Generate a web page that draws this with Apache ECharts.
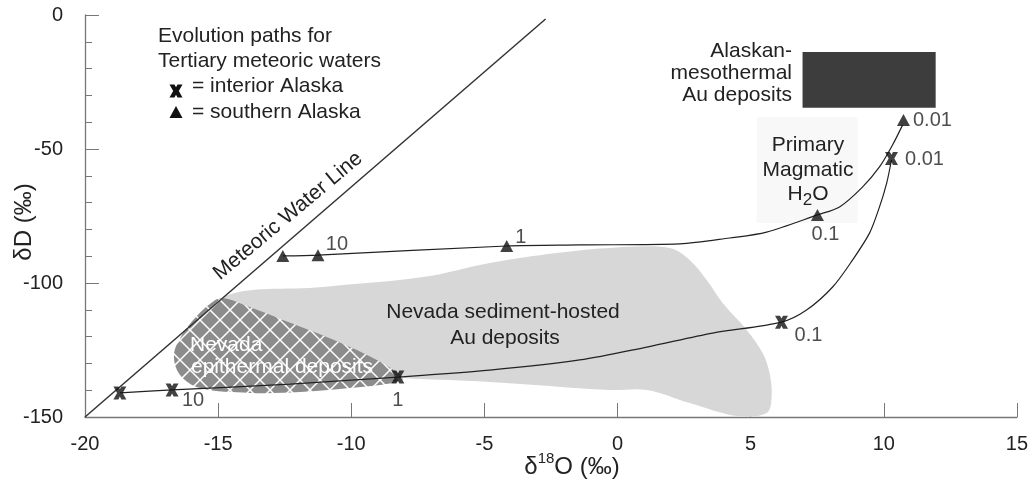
<!DOCTYPE html>
<html><head><meta charset="utf-8">
<script src="https://cdn.jsdelivr.net/npm/echarts@6/dist/echarts.min.js"></script>
<style>html,body{margin:0;padding:0;background:#fff}#c{width:1031px;height:487px}</style>
</head><body><div id="c"></div>
<script>
// ---------------- data ----------------
const xTickValues = [-20, -15, -10, -5, 0, 5, 10, 15];
const yTickValues = [-150, -100, -50, 0];

const meteoricWaterLine = [[-20, -150], [-2.70, -1.5]];

const interiorPath = [[-18.69,-141.0],[-16.73,-139.9],[-12.30,-137.7],[-8.25,-135.1],[-4.80,-132.5],[-1.42,-128.7],[1.10,-123.9],[3.57,-118.7],[6.16,-114.6],[7.10,-110.1],[8.08,-101.5],[8.83,-91.4],[9.47,-81.3],[9.84,-71.6],[10.11,-62.7],[10.29,-54.1]];
const interiorPoints = [[-18.69,-141.0],[-16.73,-139.9],[-8.25,-135.1],[6.16,-114.6],[10.29,-53.5]];
const interiorLabels = ['', '10', '1', '0.1', '0.01'];

const southernPath = [[-12.57,-89.9],[-11.25,-89.6],[-4.16,-86.2],[-1.42,-85.8],[2.34,-85.4],[4.21,-83.2],[5.60,-81.0],[7.51,-74.6],[8.34,-71.6],[9.20,-64.2],[9.84,-56.7],[10.33,-48.5],[10.71,-41.0]];
const southernPoints = [[-12.57,-89.9],[-11.25,-89.6],[-4.16,-86.2],[7.51,-74.6],[10.74,-39.2]];
const southernLabels = ['', '10', '1', '0.1', '0.01'];

const sedimentHosted = [[-14.86,-105.6],[-11.07,-101.5],[-7.31,-97.8],[-4.80,-92.5],[-2.28,-88.8],[-0.29,-86.9],[1.96,-86.9],[2.71,-91.4],[3.35,-98.9],[3.95,-107.5],[4.85,-117.5],[5.45,-126.1],[5.71,-133.6],[5.79,-142.5],[5.60,-148.5],[4.47,-149.6],[2.71,-144.8],[1.10,-139.9],[-0.29,-139.9],[-4.80,-136.9],[-8.25,-135.4],[-11.93,-132.5],[-14.56,-121.3]];
const epithermal = [[-14.86,-105.6],[-13.81,-109.0],[-12.57,-113.8],[-11.29,-118.7],[-10.05,-123.9],[-9.04,-128.7],[-8.29,-133.2],[-8.06,-135.8],[-8.44,-137.3],[-10.05,-139.2],[-11.93,-140.7],[-13.81,-141.0],[-15.68,-139.2],[-16.43,-134.3],[-16.66,-126.9],[-16.36,-119.4],[-15.80,-112.3],[-15.31,-107.8]];
const alaskanMesothermal = [[6.95,-34.6],[11.95,-13.8]];
const primaryMagmatic = [[5.23,-77.6],[9.02,-38.1]];

// ---------------- styling ----------------
const FONT = '"Liberation Sans", Arial, Helvetica, sans-serif';
const INK = '#222';
const AXIS = '#777';
const interiorLabelOffset = [[0,0],[21,11],[0,23],[27,13],[33,1]];
const southernLabelOffset = [[0,0],[19,-11],[14,-9],[8,20],[29,0]];
const X_RAW = [[0,0],[4.6,0],[6,2.6],[7.4,0],[12,0],[8.6,6],[12,12],[7.4,12],[6,9.4],[4.6,12],[0,12],[3.4,6]];
const X_PATH = 'path://M' + X_RAW.map(p => p.join(',')).join(' L') + ' Z';

function hatchPattern() {
  const c = document.createElement('canvas');
  c.width = 20; c.height = 20;
  const g = c.getContext('2d');
  g.fillStyle = '#8c8c8c'; g.fillRect(0, 0, 20, 20);
  g.strokeStyle = '#ffffff'; g.lineWidth = 1.5;
  g.beginPath();
  g.moveTo(-2, -2); g.lineTo(22, 22);
  g.moveTo(22, -2); g.lineTo(-2, 22);
  g.stroke();
  return c;
}

function polygonSeries(name, pts, style, z) {
  return {
    type: 'custom', name, coordinateSystem: 'cartesian2d', silent: true, z,
    data: pts,
    renderItem: (params, api) => {
      if (params.dataIndex !== 0) return null;
      return { type: 'polygon', shape: { points: pts.map(p => api.coord(p)), smooth: 0.35 }, style };
    }
  };
}
function rectSeries(name, corners, fill, z) {
  return {
    type: 'custom', name, coordinateSystem: 'cartesian2d', silent: true, z,
    data: corners,
    renderItem: (params, api) => {
      if (params.dataIndex !== 0) return null;
      const a = api.coord(corners[0]), b = api.coord(corners[1]);
      return { type: 'rect', shape: { x: Math.min(a[0], b[0]), y: Math.min(a[1], b[1]), width: Math.abs(b[0] - a[0]), height: Math.abs(b[1] - a[1]) }, style: { fill } };
    }
  };
}
function markerSeries(name, pts, labels, offsets, symbol, size) {
  return {
    type: 'scatter', name, z: 20, symbol, symbolSize: size,
    itemStyle: { color: '#111' },
    data: pts.map((p, i) => ({
      value: p,
      label: { show: labels[i] !== '', formatter: labels[i], position: 'inside', offset: offsets[i], color: INK, fontSize: 20, fontFamily: FONT, align: 'center', verticalAlign: 'middle' }
    }))
  };
}

function txt(text, x, y, extra) {
  return { type: 'text', x, y, z: 100, silent: true,
    style: Object.assign({ text, fill: INK, fontSize: 21, fontFamily: FONT, align: 'left', verticalAlign: 'middle' }, extra || {}) };
}
function xShape(cx, cy, w, h) {
  return { type: 'polygon', z: 100, silent: true, shape: { points: X_RAW.map(p => [cx + (p[0] - 6) * w / 12, cy + (p[1] - 6) * h / 12]) }, style: { fill: '#111' } };
}
function triShape(cx, cy, w, h) {
  return { type: 'polygon', z: 100, silent: true, shape: { points: [[cx, cy - h / 2], [cx + w / 2, cy + h / 2], [cx - w / 2, cy + h / 2]] }, style: { fill: '#111' } };
}
// text with a raised / lowered small part: pieces = [[text, fontSize, dy], ...], laid out left to right, centred at cx
function composite(pieces, cx, cy) {
  const ctx = document.createElement('canvas').getContext('2d');
  const widths = pieces.map(p => { ctx.font = p[1] + 'px ' + FONT; return ctx.measureText(p[0]).width; });
  const total = widths.reduce((a, b) => a + b, 0);
  let x = cx - total / 2;
  return pieces.map((p, i) => {
    const el = txt(p[0], x, cy + p[2], { fontSize: p[1] });
    x += widths[i];
    return el;
  });
}

const chart = echarts.init(document.getElementById('c'), null, { renderer: 'canvas' });
const mwlLabel = txt('Meteoric Water Line', 288, 216, { align: 'center' });
mwlLabel.rotation = 40 * Math.PI / 180;

const option = {
  animation: false,
  backgroundColor: '#fff',
  grid: { left: 85, right: 14, top: 15, bottom: 70 },
  xAxis: {
    type: 'value', min: xTickValues[0], max: xTickValues[xTickValues.length - 1], interval: 5,
    axisLine: { show: true, onZero: false, lineStyle: { color: AXIS, width: 1.3 } },
    axisTick: { show: true, inside: true, length: 14, lineStyle: { color: AXIS, width: 1 } },
    axisLabel: { color: INK, fontSize: 20, fontFamily: FONT, margin: 17 },
    splitLine: { show: false }
  },
  yAxis: {
    type: 'value', min: yTickValues[0], max: yTickValues[yTickValues.length - 1], interval: 50,
    axisLine: { show: true, onZero: false, lineStyle: { color: AXIS, width: 1.3 } },
    axisTick: { show: true, inside: true, length: 14, lineStyle: { color: AXIS, width: 1 } },
    minorTick: { show: true, splitNumber: 5, length: 7, lineStyle: { color: AXIS, width: 1 } },
    axisLabel: { color: INK, fontSize: 20, fontFamily: FONT, margin: 22 },
    splitLine: { show: false }, minorSplitLine: { show: false }
  },
  series: [
    rectSeries('Primary Magmatic H2O', primaryMagmatic, '#f8f8f8', 1),
    polygonSeries('Nevada sediment-hosted Au deposits', sedimentHosted, { fill: '#d7d7d7' }, 2),
    polygonSeries('Nevada epithermal deposits', epithermal, { fill: { image: hatchPattern(), repeat: 'repeat' } }, 3),
    rectSeries('Alaskan mesothermal Au deposits', alaskanMesothermal, '#3d3d3d', 3),
    { type: 'line', name: 'Meteoric Water Line', data: meteoricWaterLine, showSymbol: false, silent: true, z: 10,
      lineStyle: { color: '#333', width: 1.5 } },
    { type: 'line', name: 'interior path', data: interiorPath, smooth: 0.3, showSymbol: false, silent: true, z: 10,
      lineStyle: { color: '#222', width: 1.2 } },
    { type: 'line', name: 'southern path', data: southernPath, smooth: 0.3, showSymbol: false, silent: true, z: 10,
      lineStyle: { color: '#222', width: 1.2 } },
    markerSeries('interior Alaska', interiorPoints, interiorLabels, interiorLabelOffset, X_PATH, [13, 13]),
    markerSeries('southern Alaska', southernPoints, southernLabels, southernLabelOffset, 'triangle', [13, 12])
  ],
  graphic: [
    txt('Evolution paths for', 158, 36),
    txt('Tertiary meteoric waters', 158, 61),
    xShape(176, 91, 13, 13),
    txt('= interior Alaska', 192, 86),
    triShape(176, 112, 13, 12),
    txt('= southern Alaska', 192, 112),
    mwlLabel,
    txt('Nevada sediment-hosted', 503, 312, { align: 'center' }),
    txt('Au deposits', 505, 338, { align: 'center' }),
    txt('Nevada', 190, 345, { fill: '#fff' }),
    txt('epithermal deposits', 191, 367, { fill: '#fff' }),
    txt('Alaskan-', 792, 51, { align: 'right' }),
    txt('mesothermal', 792, 73, { align: 'right' }),
    txt('Au deposits', 792, 95, { align: 'right' }),
    txt('Primary', 808, 145, { align: 'center' }),
    txt('Magmatic', 808, 170, { align: 'center' })
  ].concat(
    composite([['H', 21, 0], ['2', 17, 6], ['O', 21, 0]], 808, 194),
    composite([['δ', 24, 0], ['18', 15, -8], ['O (‰)', 24, 0]], 572, 467),
    [{ type: 'text', x: 24, y: 222, z: 100, silent: true, rotation: Math.PI / 2,
      style: { text: 'δD (‰)', fill: INK, fontSize: 24, fontFamily: FONT, align: 'center', verticalAlign: 'middle' } }]
  )
};
chart.setOption(option);
</script>
</body></html>
